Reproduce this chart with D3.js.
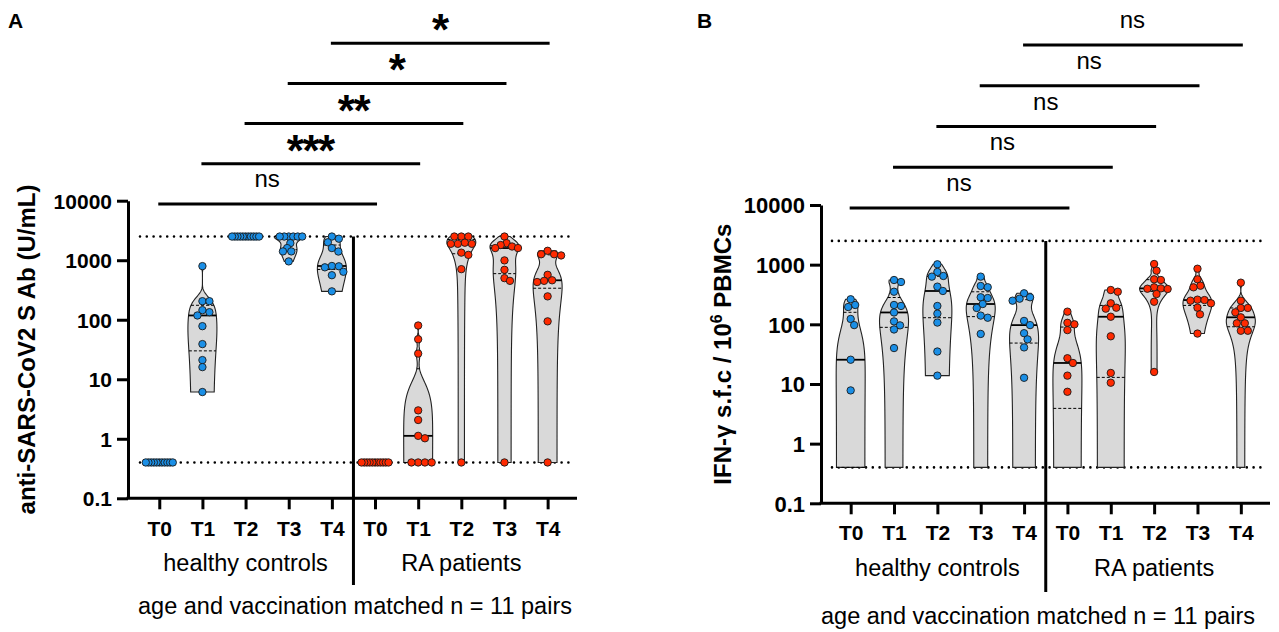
<!DOCTYPE html>
<html>
<head>
<meta charset="utf-8">
<script src="https://cdn.jsdelivr.net/npm/d3@7"></script>
<style>
body { margin: 0; background: #fff; }
svg text { font-family: "Liberation Sans", Arial, sans-serif; fill: #000; }
</style>
</head>
<body>
<svg id="chart" width="1279" height="632"></svg>
<script>
// categories
var timepoints = ['T0', 'T1', 'T2', 'T3', 'T4']
var groups = ['healthy controls', 'RA patients']
var yTicks = [0.1, 1, 10, 100, 1000, 10000]
var limits = [0.4, 2500]   // dotted lines (detection range)

// panel A: anti-SARS-CoV2 S Ab (U/mL), 11 per timepoint
var abHC = [
    [0.4, 0.4, 0.4, 0.4, 0.4, 0.4, 0.4, 0.4, 0.4, 0.4, 0.4],
    [796, 205, 205, 145, 134, 118, 78, 39, 21, 16, 6.1],
    [2500, 2500, 2500, 2500, 2500, 2500, 2500, 2500, 2500, 2500, 2500],
    [2500, 2500, 2500, 2500, 2500, 2500, 1937, 1600, 1406, 1406, 955],
    [2500, 2300, 2000, 1600, 1400, 800, 790, 760, 640, 560, 300]
]
var abRA = [
    [0.4, 0.4, 0.4, 0.4, 0.4, 0.4, 0.4, 0.4, 0.4, 0.4, 0.4],
    [80, 47, 27, 3.0, 2.07, 1.12, 1.02, 0.4, 0.4, 0.4, 0.4],
    [2500, 2500, 2500, 1968, 1885, 1885, 1885, 1340, 1230, 708, 0.4],
    [2500, 1937, 1800, 1700, 1600, 1600, 993, 690, 500, 450, 0.4],
    [1440, 1260, 1260, 1203, 569, 460, 450, 430, 247, 94, 0.4]
]
var sigA = ['ns', '***', '**', '*', '*']

// panel B: IFN-g s.f.c / 10^6 PBMCs (0 = below detection, not plotted)
var ifnHC = [
    [263, 211, 195, 123, 97, 25.5, 7.8, 0, 0, 0, 0],
    [553, 512, 352, 211, 203, 158, 112, 96, 82, 40, 0],
    [1014, 754, 646, 630, 428, 362, 203, 151, 107, 35, 13.8],
    [630, 439, 418, 284, 276, 219, 188, 140, 129, 69, 0],
    [331, 284, 269, 249, 114, 97, 71, 56, 41, 12.7, 0]
]
var ifnRA = [
    [163, 106, 100, 80, 27, 22.5, 13.8, 7.4, 0, 0, 0],
    [376, 352, 225, 190, 183, 134, 63, 15.3, 10.5, 0, 0],
    [1026, 793, 568, 553, 417, 400, 395, 391, 322, 239, 15.9],
    [855, 568, 444, 417, 259, 255, 249, 225, 190, 147, 70],
    [499, 249, 188, 188, 159, 131, 104, 104, 78, 78, 0]
]
var sigB = ['ns', 'ns', 'ns', 'ns', 'ns']

var colors = ['#1b8fe6', '#ff2a00']
var caption = 'age and vaccination matched n = 11 pairs'

var svg = d3.select('#chart')
var halfW = 14.5, dotR = 3.7

function swarm(ys, r, maxOff) {
    var placed = [], out = []
    var order = d3.range(ys.length).sort(function(a, b) { return ys[a] - ys[b] })
    order.forEach(function(i) {
        var c = 0
        for (var k = 0; k < 400; k++) {
            c = (k % 2 ? 1 : -1) * Math.ceil(k / 2) * 0.5
            var hit = placed.some(function(p) {
                return (p.x - c) * (p.x - c) + (p.y - ys[i]) * (p.y - ys[i]) < (2 * r - 0.4) * (2 * r - 0.4)
            })
            if (!hit) break
        }
        placed.push({x: c, y: ys[i]})
        out[i] = c
    })
    var m = d3.max(out, Math.abs)
    if (m > maxOff) out = out.map(function(o) { return o * maxOff / m })
    return out
}

function drawPanel(p) {
    var g = svg.append('g')
    var cats = []
    groups.forEach(function(gr, gi) { timepoints.forEach(function(t) { cats.push(gi + '|' + t) }) })
    var x = d3.scalePoint().domain(cats).range(p.xRange).padding(0.5)
    var y = d3.scaleLog().domain([0.1, 10000]).range(p.yRange)
    var axisY = p.yRange[0]

    // detection limits
    limits.forEach(function(l) {
        g.append('line')
            .attr('x1', p.dotX[0]).attr('x2', p.dotX[1])
            .attr('y1', y(l)).attr('y2', y(l))
            .attr('stroke', '#000').attr('stroke-width', 2.6)
            .attr('stroke-dasharray', '0 6.8').attr('stroke-linecap', 'round')
    })

    // divider between groups
    var divX = (x('0|T4') + x('1|T0')) / 2
    g.append('line')
        .attr('x1', divX).attr('x2', divX)
        .attr('y1', y(limits[1])).attr('y2', p.divBottom)
        .attr('stroke', '#000').attr('stroke-width', 3)

    p.series.forEach(function(ser, gi) {
        ser.forEach(function(vals, ti) {
            var cx = x(gi + '|' + timepoints[ti])
            var s = vals.map(function(v) { return Math.max(v, limits[0]) }).sort(d3.ascending)
            var n = s.length
            if (s[0] !== s[n - 1]) {
                var sd = d3.deviation(s)
                var iqr = d3.quantile(s, 0.75) - d3.quantile(s, 0.25)
                var a = iqr > 0 ? Math.min(sd, iqr / 1.34) : sd
                var h = 0.9 * a * Math.pow(n, -0.2)
                var f = function(t) { return d3.sum(s, function(v) { return Math.exp(-0.5 * Math.pow((t - v) / h, 2)) }) }
                var lo = Math.log10(s[0]), hi = Math.log10(s[n - 1])
                var pts = d3.range(0, 161).map(function(i) {
                    var v = Math.pow(10, lo + (hi - lo) * i / 160)
                    return {v: v, d: f(v)}
                })
                var dmax = d3.max(pts, function(d) { return d.d })
                var area = d3.area()
                    .y(function(d) { return y(d.v) })
                    .x0(function(d) { return cx - d.d / dmax * halfW })
                    .x1(function(d) { return cx + d.d / dmax * halfW })
                g.append('path').datum(pts)
                    .attr('d', area)
                    .attr('fill', '#d9d9d9').attr('stroke', '#222').attr('stroke-width', 1.1)
                ;[0.25, 0.5, 0.75].forEach(function(q) {
                    var v = d3.quantile(s, q)
                    var w = f(v) / dmax * halfW
                    g.append('line')
                        .attr('x1', cx - w).attr('x2', cx + w)
                        .attr('y1', y(v)).attr('y2', y(v))
                        .attr('stroke', '#000')
                        .attr('stroke-width', q === 0.5 ? 1.8 : 1)
                        .attr('stroke-dasharray', q === 0.5 ? null : '3,2')
                })
            }
            var shown = vals.filter(function(v) { return v > 0 })
            var ys = shown.map(function(v) { return y(v) })
            var offs = swarm(ys, dotR, 13.5)
            g.selectAll(null).data(shown).enter().append('circle')
                .attr('cx', function(d, i) { return cx + offs[i] })
                .attr('cy', function(d, i) { return ys[i] })
                .attr('r', dotR)
                .attr('fill', colors[gi]).attr('stroke', '#1a1a1a').attr('stroke-width', 0.9)
        })
    })

    // y axis
    var ya = g.append('g').attr('transform', 'translate(' + p.axisX + ',0)')
        .call(d3.axisLeft(y).tickValues(yTicks).tickFormat(d3.format('~g'))
            .tickSize(11).tickSizeOuter(0).tickPadding(5))
    ya.selectAll('path, line').attr('stroke', '#000').attr('stroke-width', 3)
    ya.selectAll('text').attr('font-size', p.tickFont).attr('font-weight', 'bold')
        .attr('font-family', '"Liberation Sans", Arial, sans-serif').attr('dy', '0.36em')

    // x axis
    var xa = g.append('g').attr('transform', 'translate(0,' + axisY + ')')
        .call(d3.axisBottom(x).tickSize(11).tickSizeOuter(0)
            .tickFormat(function(d) { return d.split('|')[1] }))
    xa.select('.domain').remove()
    xa.selectAll('line').attr('stroke', '#000').attr('stroke-width', 3)
    xa.selectAll('text').attr('font-size', 21).attr('font-weight', 'bold')
        .attr('font-family', '"Liberation Sans", Arial, sans-serif')
        .attr('y', p.tLabelY - axisY).attr('dy', 0)
    g.append('line')
        .attr('x1', p.axisX - 1.5).attr('x2', p.axisEnd)
        .attr('y1', axisY).attr('y2', axisY)
        .attr('stroke', '#000').attr('stroke-width', 3)

    // group labels and caption
    groups.forEach(function(gr, gi) {
        g.append('text')
            .attr('x', (x(gi + '|T0') + x(gi + '|T4')) / 2)
            .attr('y', p.groupY)
            .attr('text-anchor', 'middle').attr('font-size', 23.5)
            .text(gr)
    })
    g.append('text')
        .attr('x', p.captionX).attr('y', p.captionY)
        .attr('text-anchor', 'middle').attr('font-size', 23.5)
        .text(caption)

    // y label
    var yl = g.append('text')
        .attr('transform', 'translate(' + p.ylabelX + ',' + (p.yRange[0] + p.yRange[1]) / 2 + ') rotate(-90)')
        .attr('text-anchor', 'middle').attr('font-size', 24).attr('font-weight', 'bold')
    p.ylabel(yl)

    // significance bars
    p.sig.forEach(function(lab, i) {
        var x1 = x('0|' + timepoints[i]), x2 = x('1|' + timepoints[i])
        var ly = p.sigBase - i * p.sigStep
        g.append('line')
            .attr('x1', x1 - 1).attr('x2', x2 + 2)
            .attr('y1', ly).attr('y2', ly)
            .attr('stroke', '#000').attr('stroke-width', 3)
        var star = lab !== 'ns'
        g.append('text')
            .attr('x', (x1 + x2) / 2).attr('y', star ? ly + 2 : ly - 17)
            .attr('text-anchor', 'middle')
            .attr('font-size', star ? 44 : 24)
            .attr('font-weight', star ? 'bold' : null)
            .attr('font-family', star ? '"DejaVu Sans", sans-serif' : null)
            .attr('letter-spacing', star ? -1.5 : null)
            .text(lab)
    })

    g.append('text').attr('x', p.letter[0]).attr('y', p.letter[1])
        .attr('font-size', 21).attr('font-weight', 'bold').text(p.name)
}

drawPanel({
    name: 'A', letter: [8, 28],
    series: [abHC, abRA], sig: sigA,
    xRange: [137.7, 569.2], yRange: [498.3, 200.7],
    axisX: 128, axisEnd: 577, dotX: [140, 575], divBottom: 585, tickFont: 21,
    tLabelY: 536, groupY: 571, captionX: 355, captionY: 614,
    sigBase: 204, sigStep: 40.2, ylabelX: 35,
    ylabel: function(t) { t.text('anti-SARS-CoV2 S Ab (U/mL)') }
})

drawPanel({
    name: 'B', letter: [697, 28],
    series: [ifnHC, ifnRA], sig: sigB,
    xRange: [829, 1262.5], yRange: [503.3, 205],
    axisX: 821, axisEnd: 1270, dotX: [832, 1267], divBottom: 592, tickFont: 22,
    tLabelY: 540, groupY: 576, captionX: 1038, captionY: 624,
    sigBase: 208, sigStep: 40.75, ylabelX: 731,
    ylabel: function(t) {
        t.append('tspan').text('IFN-\u03b3 s.f.c / 10')
        t.append('tspan').attr('font-size', 16).attr('dy', -9).text('6')
        t.append('tspan').attr('dy', 9).text(' PBMCs')
    }
})
</script>
</body>
</html>
